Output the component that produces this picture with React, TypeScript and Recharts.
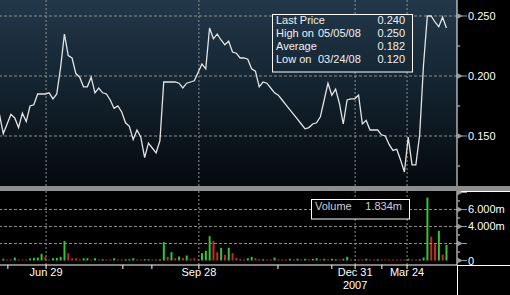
import { LineChart, Line, BarChart, Bar, Cell, XAxis, YAxis, ReferenceLine } from "recharts";

// price per session, first value sits just left of the visible range
const priceValues = [
  0.168, 0.152, 0.16, 0.168, 0.165, 0.157, 0.169, 0.162, 0.175, 0.176, 0.185,
  0.185, 0.185, 0.186, 0.181, 0.185, 0.207, 0.235, 0.217, 0.215, 0.202, 0.199,
  0.191, 0.191, 0.199, 0.186, 0.19, 0.186, 0.185, 0.18, 0.173, 0.175, 0.17,
  0.161, 0.158, 0.147, 0.155, 0.149, 0.132, 0.144, 0.14, 0.136, 0.146, 0.195,
  0.195, 0.195, 0.195, 0.194, 0.19, 0.194, 0.195, 0.196, 0.203, 0.21, 0.206,
  0.24, 0.231, 0.235, 0.23, 0.226, 0.229, 0.22, 0.219, 0.215, 0.215, 0.214,
  0.206, 0.204, 0.191, 0.195, 0.194, 0.19, 0.186, 0.184, 0.18, 0.176, 0.172,
  0.168, 0.164, 0.16, 0.156, 0.157, 0.16, 0.161, 0.166, 0.18, 0.194, 0.184,
  0.189, 0.177, 0.16, 0.18, 0.181, 0.181, 0.184, 0.16, 0.163, 0.155, 0.155,
  0.155, 0.151, 0.15, 0.143, 0.138, 0.139, 0.13, 0.12, 0.149, 0.126, 0.126,
  0.151, 0.209, 0.25, 0.25, 0.245, 0.241, 0.249, 0.24,
];

// volume in millions
const volumeValues = [
  0.2, 0.12, 0.12, 0.35, 0.12, 0.1, 0.12, 0.25, 0.31, 0.35, 0.78, 0.45, 0.1,
  0.27, 0.31, 0.43, 2.3, 0.86, 0.27, 0.27, 0.15, 0.27, 0.27, 0.1, 0.27, 0.12,
  0.15, 0.12, 0.12, 0.27, 0.12, 0.12, 0.15, 0.15, 0.27, 0.12, 0.12, 0.15, 0.15,
  0.12, 0.12, 0.15, 2.16, 0.43, 0.98, 0.27, 0.47, 0.31, 0.59, 0.2, 0.27, 0.15,
  0.86, 1.14, 2.86, 2.31, 0.98, 1.49, 0.67, 1.49, 0.86, 0.31, 0.2, 0.12, 0.27,
  0.43, 0.27, 0.15, 0.15, 0.12, 0.12, 0.35, 0.12, 0.12, 0.12, 0.2, 0.12, 0.2,
  0.12, 0.2, 0.12, 0.2, 0.27, 0.12, 0.2, 0.12, 0.2, 0.15, 0.12, 0.2, 0.43,
  0.12, 0.12, 0.12, 0.12, 0.2, 0.12, 0.12, 0.15, 0.12, 0.12, 0.12, 0.12, 0.12,
  0.12, 0.12, 0.2, 0.12, 0.12, 0.15, 0.35, 7.4, 2.8, 2.0, 3.5, 0.7, 1.834,
];

// 1 = closed up (green), 0 = closed down (red)
const volumeUp = [
  1, 0, 0, 1, 0, 0, 0, 1, 1, 1, 1, 0, 0, 1, 1, 1, 1, 0, 0, 0, 0, 1, 1, 0, 1, 0,
  1, 0, 0, 1, 0, 0, 1, 1, 1, 0, 0, 1, 1, 0, 0, 1, 1, 0, 1, 0, 1, 0, 1, 0, 0, 0,
  1, 1, 1, 0, 0, 1, 0, 1, 0, 0, 0, 0, 1, 1, 0, 0, 1, 0, 0, 1, 0, 0, 0, 1, 0, 1,
  0, 1, 0, 1, 1, 0, 1, 0, 1, 1, 0, 1, 1, 0, 0, 0, 0, 1, 0, 0, 1, 0, 0, 0, 0, 0,
  0, 0, 1, 0, 0, 1, 1, 1, 0, 0, 1, 0, 1,
];

const priceTicks = [0.125, 0.15, 0.175, 0.2, 0.225, 0.25];
const priceGrid = [0.15, 0.2, 0.25];
const volumeTicks = [0, 1, 2, 3, 4, 5, 6, 7, 8];
const volumeGrid = [2, 4, 6];
const volumeLabels: Record<number, string> = { 0: "0", 4: "4.000m", 6: "6.000m" };

const dateTicks = [11.2, 51.2, 92.1, 105.7];
const dateLabels = ["Jun 29", "Sep 28", "Dec 31", "Mar 24"];
const minorDateTicks = [1.2, 31.3, 38.9, 71.9, 86.0, 99.1];
const yearTick = 92.1;
const yearLabel = "2007";

const summaryRows = [
  { label: "Last Price", date: "", value: "0.240" },
  { label: "High on", date: "05/05/08", value: "0.250" },
  { label: "Average", date: "", value: "0.182" },
  { label: "Low on", date: "03/24/08", value: "0.120" },
];
const lastVolume = "1.834m";

const X_DOMAIN: [number, number] = [-0.86, 118.77];
const PRICE_DOMAIN: [number, number] = [0.10833, 0.26333];
const VOLUME_DOMAIN: [number, number] = [-0.529, 8.176];

const FONT = "'Liberation Sans', Arial, sans-serif";
const GRID = "#8e8e8e";
const MARK = "#9a9a9a";
const PANEL_TOP = "#22384a";
const PANEL_MID = "#142431";
const PANEL_BOTTOM = "#04090c";

const priceData = priceValues.map((p, k) => ({ i: k - 1, price: p }));
const volumeData = volumeValues.map((v, k) => ({ i: k, vol: v, up: volumeUp[k] }));
const allDateTicks = [...minorDateTicks, ...dateTicks].sort((a, b) => a - b);

function PriceTick(props: any) {
  const { x, y, payload } = props;
  const v = payload.value as number;
  const major = Math.round(v * 1000) % 50 === 0;
  if (!major) {
    return <line x1={x} x2={x + 3} y1={y} y2={y} stroke={MARK} strokeWidth={1.5} />;
  }
  return (
    <g>
      <polygon points={`${x},${y - 3} ${x + 6},${y} ${x},${y + 3}`} fill={MARK} />
      <line x1={x + 5} x2={x + 10} y1={y} y2={y} stroke={MARK} />
      <text x={x + 11} y={y + 4} fill="#fff" fontSize={11} fontFamily={FONT}>
        {v.toFixed(3)}
      </text>
    </g>
  );
}

function VolumeTick(props: any) {
  const { x, y, payload } = props;
  const v = payload.value as number;
  if (v % 2 !== 0) {
    return <line x1={x} x2={x + 3} y1={y} y2={y} stroke={MARK} strokeWidth={1.5} />;
  }
  return (
    <g>
      <polygon points={`${x},${y - 3} ${x + 6},${y} ${x},${y + 3}`} fill={MARK} />
      <line x1={x + 5} x2={x + 10} y1={y} y2={y} stroke={MARK} />
      {volumeLabels[v] && (
        <text x={x + 11} y={y + 4} fill="#fff" fontSize={11} fontFamily={FONT}>
          {volumeLabels[v]}
        </text>
      )}
    </g>
  );
}

function DateTick(props: any) {
  const { x, y, payload } = props;
  const idx = dateTicks.indexOf(payload.value);
  if (idx < 0) return <g />;
  return (
    <g>
      <text x={x} y={y + 7} textAnchor="middle" fill="#fff" fontSize={11} fontFamily={FONT}>
        {dateLabels[idx]}
      </text>
      {payload.value === yearTick && (
        <text x={x} y={y + 20} textAnchor="middle" fill="#fff" fontSize={11} fontFamily={FONT}>
          {yearLabel}
        </text>
      )}
    </g>
  );
}

export default function App() {
  return (
    <div
      style={{
        position: "absolute",
        left: 0,
        top: 0,
        width: 510,
        height: 295,
        background: "#000",
        overflow: "hidden",
        fontFamily: FONT,
      }}
    >
      <div
        style={{
          position: "absolute",
          left: 0,
          top: 0,
          width: 457,
          height: 186,
          background: `linear-gradient(to bottom, ${PANEL_TOP} 0%, ${PANEL_MID} 45%, ${PANEL_BOTTOM} 100%)`,
        }}
      />
      <div style={{ position: "absolute", left: 0, top: 186, width: 510, height: 5, background: "#8e8e8e" }} />
      <div style={{ position: "absolute", left: 457, top: 191, width: 53, height: 1, background: "#fff" }} />
      <div style={{ position: "absolute", left: 457, top: 265, width: 53, height: 1, background: "#fff" }} />
      <div style={{ position: "absolute", left: 457, top: 265, width: 1, height: 30, background: "#fff" }} />

      <div style={{ position: "absolute", left: 0, top: 0 }}>
        <LineChart width={510} height={186} data={priceData} margin={{ top: 0, right: 0, left: 0, bottom: 0 }}>
          <XAxis dataKey="i" type="number" domain={X_DOMAIN} allowDataOverflow hide />
          <YAxis
            orientation="right"
            width={53}
            domain={PRICE_DOMAIN}
            ticks={priceTicks}
            allowDataOverflow
            interval={0}
            tickSize={0}
            tickMargin={0}
            tickLine={false}
            axisLine={{ stroke: "#fff" }}
            tick={(p: any) => <PriceTick {...p} />}
          />
          {priceGrid.map((v) => (
            <ReferenceLine key={v} y={v} stroke={GRID} strokeDasharray="3 2" />
          ))}
          {dateTicks.map((v) => (
            <ReferenceLine key={v} x={v} stroke={GRID} strokeDasharray="2 2" />
          ))}
          <Line
            type="linear"
            dataKey="price"
            stroke="#e4e4e4"
            strokeWidth={1.3}
            dot={false}
            isAnimationActive={false}
          />
        </LineChart>
      </div>

      <div style={{ position: "absolute", left: 0, top: 191 }}>
        <BarChart width={510} height={104} data={volumeData} margin={{ top: 0, right: 0, left: 0, bottom: 0 }}>
          <XAxis
            dataKey="i"
            type="number"
            domain={X_DOMAIN}
            allowDataOverflow
            height={30}
            ticks={allDateTicks}
            interval={0}
            tickSize={4}
            tickMargin={0}
            tickLine={{ stroke: "#fff" }}
            axisLine={{ stroke: "#fff" }}
            tick={(p: any) => <DateTick {...p} />}
          />
          <YAxis
            orientation="right"
            width={53}
            domain={VOLUME_DOMAIN}
            ticks={volumeTicks}
            allowDataOverflow
            interval={0}
            tickSize={0}
            tickMargin={0}
            tickLine={false}
            axisLine={{ stroke: "#fff" }}
            tick={(p: any) => <VolumeTick {...p} />}
          />
          {volumeGrid.map((v) => (
            <ReferenceLine key={v} y={v} stroke={GRID} strokeDasharray="3 2" />
          ))}
          {dateTicks.map((v) => (
            <ReferenceLine key={v} x={v} stroke={GRID} strokeDasharray="2 2" />
          ))}
          <Bar dataKey="vol" barSize={2} isAnimationActive={false}>
            {volumeData.map((d, k) => (
              <Cell key={k} fill={d.up ? "#36c436" : "#c42a2a"} />
            ))}
          </Bar>
        </BarChart>
      </div>

      <svg
        width={510}
        height={295}
        style={{ position: "absolute", left: 0, top: 0, pointerEvents: "none" }}
      >
        <defs>
          <linearGradient id="panelFill" gradientUnits="userSpaceOnUse" x1={0} y1={0} x2={0} y2={186}>
            <stop offset="0%" stopColor={PANEL_TOP} />
            <stop offset="45%" stopColor={PANEL_MID} />
            <stop offset="100%" stopColor={PANEL_BOTTOM} />
          </linearGradient>
        </defs>
        <rect x={272.5} y={14.5} width={140} height={57.5} fill="url(#panelFill)" stroke="#fff" />
        {summaryRows.map((r, k) => (
          <g key={r.label} fontFamily={FONT} fontSize={11} fill="#f0f0f0">
            <text x={276} y={24 + k * 13}>{r.label}</text>
            {r.date && <text x={318} y={24 + k * 13}>{r.date}</text>}
            <text x={405} y={24 + k * 13} textAnchor="end">{r.value}</text>
          </g>
        ))}
        <rect x={311.5} y={199.5} width={98} height={19.5} fill="#000" stroke="#fff" />
        <text x={315} y={210} fontFamily={FONT} fontSize={11} fill="#c8d0d8">Volume</text>
        <text x={402} y={210} fontFamily={FONT} fontSize={11} fill="#c8d0d8" textAnchor="end">
          {lastVolume}
        </text>
      </svg>
    </div>
  );
}
